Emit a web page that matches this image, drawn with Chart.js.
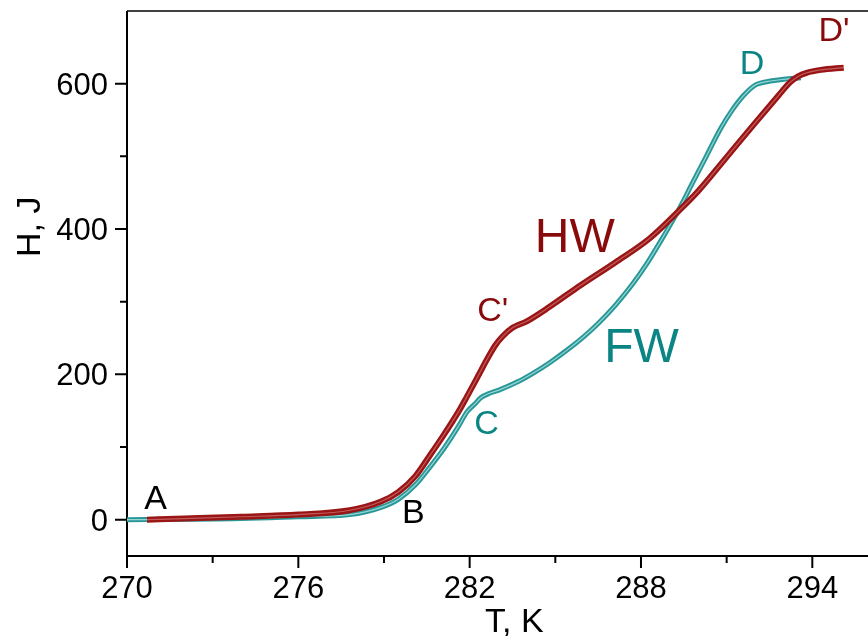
<!DOCTYPE html>
<html>
<head>
<meta charset="utf-8">
<script src="https://cdn.jsdelivr.net/npm/chart.js@4"></script>
<style>
  body { margin: 0; background: #fff; overflow: hidden; }
  canvas { display: block; }
</style>
</head>
<body>
<canvas id="chart" width="868" height="636"></canvas>
<script>
// FW curve (teal), T in K, H in J
const fwT = [270, 272, 274, 276, 277.8, 278.9, 279.5, 280.1, 280.6, 281.1, 281.6, 281.9, 282.2, 282.4, 282.7, 283.0, 283.7, 284.2, 284.8, 285.4, 286.0, 286.5, 287.1, 287.7, 288.2, 288.7, 289.3, 289.8, 290.3, 290.8, 291.2, 291.6, 292.0, 292.6, 293.0, 293.6];
const fwH = [0, 0.5, 1.5, 4, 7, 17, 28, 48, 72, 98, 128, 148, 160, 168, 174, 178, 190, 201, 216, 233, 252, 270, 295, 324, 352, 384, 425, 463, 501, 539, 564, 584, 598, 604, 606, 608];

// HW curve (dark red)
const hwT = [270.7, 272, 274, 276, 277.8, 278.9, 279.5, 280.1, 280.6, 281.1, 281.6, 281.9, 282.3, 282.6, 282.9, 283.15, 283.5, 284.0, 284.8, 285.9, 287.1, 288.3, 289.3, 290.0, 291.0, 292.0, 292.8, 293.2, 293.5, 293.8, 294.3, 295.1];
const hwH = [0, 1.5, 4, 7, 13, 25, 38, 60, 88, 117, 148, 169, 198, 220, 240, 252, 264, 273, 293, 323, 354, 387, 424, 452, 499, 546, 583, 601, 610, 615, 619, 622];

// axis ticks
const xMajor = [270, 276, 282, 288, 294];
const xMinor = [273, 279, 285, 291];
const yMajor = [0, 200, 400, 600];
const yMinor = [100, 300, 500];

// point labels on the curves
const noteText = ['A', 'B', 'C', "C'", 'HW', 'FW', 'D', "D'"];
const noteT = [271.0, 280.03, 282.59, 282.81, 285.68, 288.02, 291.89, 294.76];
const noteH = [31, 12, 134, 290, 392, 241, 630, 675];

const TEAL = '#2a9797';
const RED = '#9a1515';
const TEAL_TXT = '#0b8484';
const RED_TXT = '#880a0a';
const noteColor = ['#000', '#000', TEAL_TXT, RED_TXT, RED_TXT, TEAL_TXT, TEAL_TXT, RED_TXT];
const noteSize = [34, 34, 34, 34, 48, 48, 34, 34];
const FONT = '"Liberation Sans", Arial, sans-serif';

const pts = (xs, ys) => xs.map((v, i) => ({ x: v, y: ys[i] }));

// Axes, ticks and titles drawn by hand (Origin-like frame)
const framePlugin = {
    id: 'frame',
    beforeDatasetsDraw(chart) {
        const { ctx, chartArea: a, scales: { x, y } } = chart;
        ctx.save();
        ctx.strokeStyle = '#000';

        ctx.lineWidth = 1.5;
        ctx.beginPath();
        ctx.moveTo(a.left, a.top);
        ctx.lineTo(a.right, a.top);
        ctx.stroke();

        ctx.lineWidth = 2;
        ctx.beginPath();
        ctx.moveTo(a.left, a.top);
        ctx.lineTo(a.left, a.bottom);
        ctx.moveTo(a.left, a.bottom);
        ctx.lineTo(a.right, a.bottom);
        ctx.stroke();

        // x ticks
        ctx.beginPath();
        xMajor.forEach(v => {
            const px = x.getPixelForValue(v);
            ctx.moveTo(px, a.bottom);
            ctx.lineTo(px, a.bottom + 12);
        });
        xMinor.forEach(v => {
            const px = x.getPixelForValue(v);
            ctx.moveTo(px, a.bottom);
            ctx.lineTo(px, a.bottom + 7);
        });
        // y ticks
        yMajor.forEach(v => {
            const py = y.getPixelForValue(v);
            ctx.moveTo(a.left, py);
            ctx.lineTo(a.left - 12, py);
        });
        yMinor.forEach(v => {
            const py = y.getPixelForValue(v);
            ctx.moveTo(a.left, py);
            ctx.lineTo(a.left - 7, py);
        });
        ctx.stroke();

        // tick labels
        ctx.fillStyle = '#000';
        ctx.font = `31px ${FONT}`;
        ctx.textBaseline = 'alphabetic';
        ctx.textAlign = 'center';
        xMajor.forEach(v => ctx.fillText(String(v), x.getPixelForValue(v), a.bottom + 42));
        ctx.textAlign = 'right';
        yMajor.forEach(v => ctx.fillText(String(v), a.left - 19, y.getPixelForValue(v) + 11));

        // axis titles
        ctx.font = `34px ${FONT}`;
        ctx.textAlign = 'left';
        ctx.fillText('T, K', 485, 632);
        ctx.translate(40, 257);
        ctx.rotate(-Math.PI / 2);
        ctx.fillText('H, J', 0, 0);
        ctx.restore();
    },
    afterDatasetsDraw(chart) {
        const { ctx, scales: { x, y } } = chart;
        ctx.save();
        ctx.textAlign = 'center';
        ctx.textBaseline = 'alphabetic';
        noteText.forEach((t, i) => {
            ctx.font = `${noteSize[i]}px ${FONT}`;
            ctx.fillStyle = noteColor[i];
            ctx.fillText(t, x.getPixelForValue(noteT[i]), y.getPixelForValue(noteH[i]) + noteSize[i] * 0.358);
        });
        ctx.restore();
    }
};

const line = (data, color, width) => ({
    data,
    borderColor: color,
    borderWidth: width,
    showLine: true,
    pointRadius: 0,
    fill: false,
    cubicInterpolationMode: 'monotone'
});

new Chart(document.getElementById('chart'), {
    type: 'scatter',
    data: {
        datasets: [
            line(pts(hwT, hwH), 'rgba(255,200,200,0.4)', 1.2),
            line(pts(hwT, hwH), RED, 6),
            line(pts(fwT, fwH), 'rgba(220,255,255,0.6)', 1.2),
            line(pts(fwT, fwH), TEAL, 5)
        ]
    },
    options: {
        responsive: false,
        animation: false,
        devicePixelRatio: 1,
        layout: { padding: { left: 127, top: 11, right: 0, bottom: 80 } },
        plugins: { legend: { display: false }, tooltip: { enabled: false } },
        scales: {
            x: { type: 'linear', display: false, min: 270, max: 295.95 },
            y: { type: 'linear', display: false, min: -50, max: 700 }
        }
    },
    plugins: [framePlugin]
});
</script>
</body>
</html>
